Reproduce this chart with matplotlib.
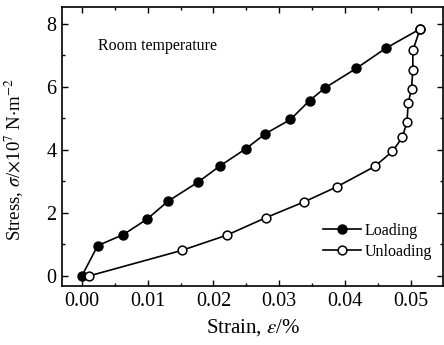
import matplotlib
matplotlib.use("Agg")
import matplotlib.pyplot as plt
from matplotlib.ticker import MultipleLocator

plt.rcParams["font.family"] = ["Liberation Serif", "DejaVu Serif"]
plt.rcParams["mathtext.fontset"] = "stix"

# Loading branch (strain in %, stress in 1e7 N/m^2)
load_strain = [0.0, 0.0024, 0.0063, 0.0099, 0.0131, 0.0177, 0.0210, 0.0249,
               0.0279, 0.0317, 0.0346, 0.0370, 0.0417, 0.0462, 0.0514]
load_stress = [0.0, 0.96, 1.31, 1.80, 2.37, 2.98, 3.49, 4.03,
               4.51, 4.96, 5.56, 5.97, 6.58, 7.22, 7.83]

# Unloading branch
unload_strain = [0.0514, 0.0503, 0.0503, 0.0501, 0.0496, 0.0494, 0.0487, 0.0472,
                 0.0445, 0.0387, 0.0338, 0.0280, 0.0220, 0.0152, 0.0011]
unload_stress = [7.83, 7.15, 6.54, 5.94, 5.48, 4.88, 4.39, 3.95,
                 3.47, 2.82, 2.35, 1.85, 1.29, 0.81, 0.0]

fig = plt.figure(figsize=(4.44, 3.45), dpi=100)
ax = fig.add_axes([0.14, 0.171, 0.858, 0.809])

ax.plot(load_strain, load_stress, "-o", color="black", lw=1.2,
        markersize=6.5, markerfacecolor="black", label="Loading", zorder=2)
ax.plot(unload_strain, unload_stress, "-o", color="black", lw=1.2,
        markersize=6.3, markerfacecolor="white", markeredgewidth=1.1,
        label="Unloading", zorder=3)

ax.set_xlim(-0.003, 0.0549)
ax.set_ylim(-0.32, 8.53)
ax.xaxis.set_major_locator(MultipleLocator(0.01))
ax.xaxis.set_minor_locator(MultipleLocator(0.005))
ax.yaxis.set_major_locator(MultipleLocator(2))
ax.yaxis.set_minor_locator(MultipleLocator(1))
ax.xaxis.set_major_formatter(lambda v, p: f"{v:.2f}")
ax.tick_params(which="both", direction="in", top=True, right=True,
               labelsize=14.5, width=1.0)
ax.tick_params(which="major", length=4, pad=4)
ax.tick_params(which="minor", length=2.5)
for s in ax.spines.values():
    s.set_linewidth(1.2)

ax.set_xlabel(r"Strain, $\varepsilon$/%", fontsize=15, labelpad=5)
ax.set_ylabel(r"Stress, $\sigma$/$\times$10$^{7}$ N$\cdot$m$^{-2}$",
              fontsize=13.5)
ax.yaxis.set_label_coords(-0.095, 0.455)

ax.text(0.094, 0.86, "Room temperature", transform=ax.transAxes,
        fontsize=11.5, va="center", ha="left")

ax.legend(loc="lower right", frameon=False, fontsize=11.5, handlelength=2.4,
          handletextpad=0.2, labelspacing=0.3, borderaxespad=0.2,
          bbox_to_anchor=(0.995, 0.06))

fig.savefig("out.png", dpi=100)
